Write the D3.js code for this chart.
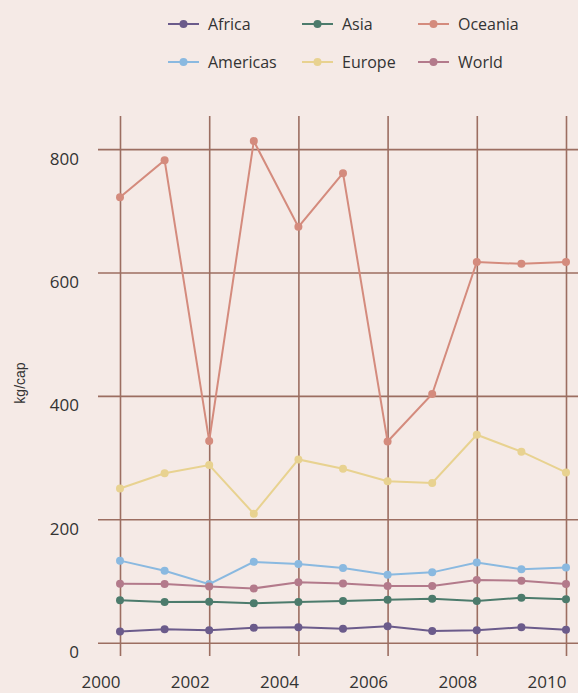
<!DOCTYPE html>
<html><head><meta charset="utf-8">
<script src="https://cdn.jsdelivr.net/npm/d3@7"></script>
<style>
html,body{margin:0;padding:0;background:#f5eae6;}
svg{display:block;}
</style></head>
<body>
<svg id="chart" width="578" height="693"></svg>
<script>
const years = [2000,2001,2002,2003,2004,2005,2006,2007,2008,2009,2010];
const seriesNames = ["Africa","Americas","Asia","Europe","Oceania","World"];
const africa   = [18,21.7,20,24.3,25,22.7,26.6,19,20,25,21];
const americas = [133,116.7,95,131,127.5,121,110,114,130,119,122];
const asia     = [68.7,66,66.5,64,66,67.6,69.7,71.3,67.6,73,70.3];
const europe   = [250,274.5,288,209,297,282,261.6,259,337,309.6,276];
const oceania  = [722,782,327,813,674,761,326,403,617,614,617];
const world    = [95.6,95,91,88,98,96,92,92,101.6,100.5,95];
const yTicks = [0,200,400,600,800];
const xTicks = [2000,2002,2004,2006,2008,2010];
const legendOrder = ["Africa","Asia","Oceania","Americas","Europe","World"];
const colors = {Africa:"#6b5b8b",Americas:"#8ab9e0",Asia:"#4c7b6c",Europe:"#e8d290",Oceania:"#d48b7d",World:"#b37a8b"};
const values = {Africa:africa,Americas:americas,Asia:asia,Europe:europe,Oceania:oceania,World:world};

const svg = d3.select("#chart");
const font = "'Open Sans', sans-serif";
const gridColor = "#9c6e61";

const x = d3.scaleLinear().domain([2000,2010]).range([120,566]);
const y = d3.scaleLinear().domain([0,800]).range([642.7,149.1]);

// y axis / horizontal grid
const yAxis = svg.append("g").attr("transform","translate(98,0)")
  .call(d3.axisLeft(y).tickValues(yTicks).tickSize(-480).tickFormat(d3.format("d")));
yAxis.select(".domain").remove();
yAxis.selectAll(".tick line").attr("stroke",gridColor).attr("stroke-width",1.6);
yAxis.selectAll(".tick text").attr("x",-19).attr("dy",null).attr("y",15)
  .attr("text-anchor","end").attr("fill","#333").style("font-family",font).style("font-size","17px");

// x axis / vertical grid
const xAxis = svg.append("g").attr("transform","translate(0,116)")
  .call(d3.axisBottom(x).tickValues(xTicks).tickSize(540).tickFormat(d3.format("d")));
xAxis.select(".domain").remove();
xAxis.selectAll(".tick line").attr("stroke",gridColor).attr("stroke-width",1.6);
xAxis.selectAll(".tick text").attr("x",0).attr("dy",null).attr("y",572)
  .attr("text-anchor","end").attr("fill","#333").style("font-family",font).style("font-size","17px");

// y title
svg.append("text").attr("transform","translate(25,383) rotate(-90)")
  .attr("text-anchor","middle").attr("fill","#333")
  .style("font-family","'Liberation Sans', Arial, sans-serif").style("font-size","14px")
  .text("kg/cap");

// series
const line = d3.line().x((d,i)=>x(years[i])).y(d=>y(d));
seriesNames.forEach(name=>{
  const g = svg.append("g");
  g.append("path").datum(values[name]).attr("d",line).attr("fill","none")
    .attr("stroke",colors[name]).attr("stroke-width",2);
  g.selectAll("circle").data(values[name]).join("circle")
    .attr("cx",(d,i)=>x(years[i])).attr("cy",d=>y(d)).attr("r",4).attr("fill",colors[name]);
});

// legend
const colX = [168,302,418];
const rowY = [24,62];
legendOrder.forEach((name,i)=>{
  const cx = colX[i%3], cy = rowY[Math.floor(i/3)];
  const g = svg.append("g").attr("transform",`translate(${cx},${cy})`);
  g.append("line").attr("x1",0).attr("x2",31).attr("y1",0).attr("y2",0)
    .attr("stroke",colors[name]).attr("stroke-width",2);
  g.append("circle").attr("cx",15.5).attr("cy",0).attr("r",4).attr("fill",colors[name]);
  g.append("text").attr("x",40).attr("y",0).attr("dy","0.35em").attr("fill","#333")
    .style("font-family",font).style("font-size","16px").text(name);
});
</script>
</body></html>
